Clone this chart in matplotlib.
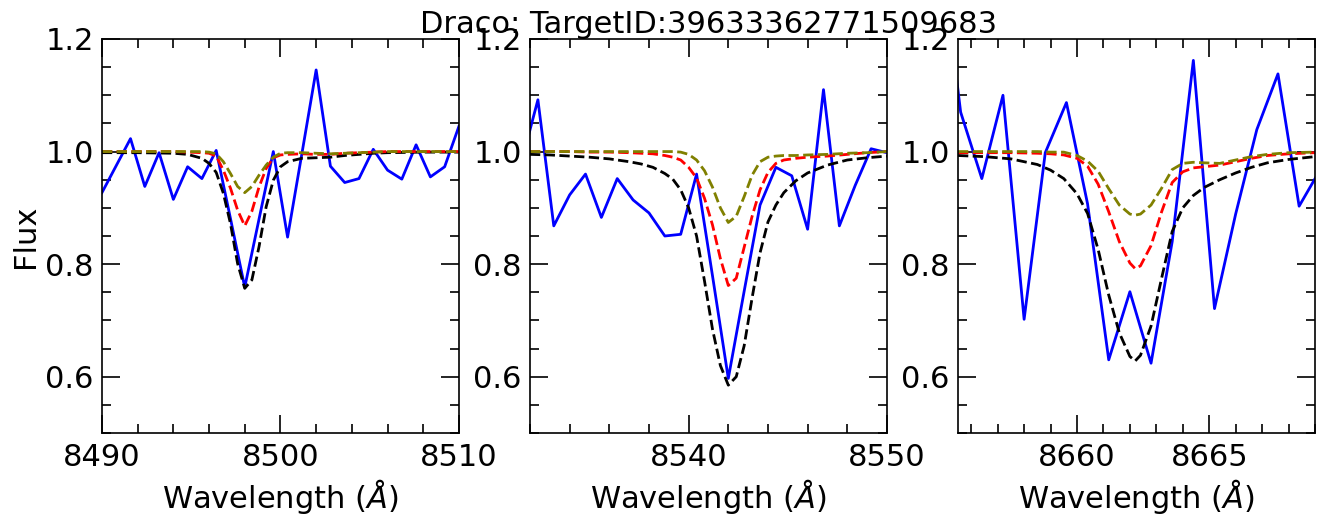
import matplotlib
matplotlib.use('Agg')
import matplotlib.pyplot as plt
from matplotlib.ticker import MultipleLocator

plt.rcParams['font.size'] = 22

f_out = 'out.png'
title = 'Draco: TargetID:39633362771509683'

# observed spectrum, one chunk per CaT line
wave1 = [8490.0, 8490.8, 8491.6, 8492.4, 8493.2, 8494.0, 8494.8, 8495.6, 8496.4,
         8497.2, 8498.0, 8498.8, 8499.6, 8500.4, 8501.2, 8502.0, 8502.8, 8503.6,
         8504.4, 8505.2, 8506.0, 8506.8, 8507.6, 8508.4, 8509.2, 8510.0]
flux1 = [0.927, 0.975, 1.023, 0.938, 0.998, 0.915, 0.973, 0.952, 1.002,
         0.881, 0.759, 0.880, 1.000, 0.848, 0.996, 1.145, 0.974, 0.945,
         0.952, 1.004, 0.967, 0.951, 1.012, 0.955, 0.973, 1.045]

wave2 = [8531.6, 8532.4, 8533.2, 8534.0, 8534.8, 8535.6, 8536.4, 8537.2, 8538.0,
         8538.8, 8539.6, 8540.4, 8541.2, 8542.0, 8542.8, 8543.6, 8544.4, 8545.2,
         8546.0, 8546.8, 8547.6, 8548.4, 8549.2, 8550.0]
flux2 = [0.985, 1.092, 0.868, 0.923, 0.960, 0.883, 0.952, 0.914, 0.891,
         0.850, 0.853, 0.960, 0.780, 0.597, 0.752, 0.905, 0.972, 0.957,
         0.862, 1.110, 0.868, 0.940, 1.005, 0.998]

wave3 = [8654.8, 8655.6, 8656.4, 8657.2, 8658.0, 8658.8, 8659.6, 8660.4, 8661.2,
         8662.0, 8662.8, 8663.6, 8664.4, 8665.2, 8666.0, 8666.8, 8667.6, 8668.4,
         8669.2]
flux3 = [1.380, 1.070, 0.952, 1.100, 0.702, 0.998, 1.087, 0.907, 0.630,
         0.751, 0.624, 0.840, 1.162, 0.721, 0.889, 1.039, 1.138, 0.903,
         0.968]

# model profiles (black, red, olive), sampled off the figure
mwave1 = [8490.0, 8492.0, 8494.0, 8494.8, 8495.6, 8496.0, 8496.4, 8496.8, 8497.2,
          8497.6, 8498.0, 8498.4, 8498.8, 8499.2, 8499.6, 8500.0, 8500.4, 8501.2,
          8502.0, 8502.8, 8503.6, 8504.4, 8505.2, 8506.0, 8508.0, 8510.0]
black1 = [0.998, 0.998, 0.997, 0.995, 0.988, 0.979, 0.963, 0.926, 0.872,
          0.801, 0.757, 0.772, 0.831, 0.902, 0.949, 0.973, 0.982, 0.988,
          0.989, 0.990, 0.993, 0.995, 0.997, 0.998, 0.999, 0.999]
red1 = [1.000, 1.000, 1.000, 0.999, 0.998, 0.997, 0.992, 0.967, 0.935,
        0.896, 0.868, 0.894, 0.937, 0.970, 0.989, 0.994, 0.995, 0.996,
        0.995, 0.995, 0.997, 0.998, 0.999, 1.000, 1.000, 1.000]
olive1 = [1.000, 1.000, 1.000, 1.000, 1.000, 0.999, 0.996, 0.982, 0.961,
          0.938, 0.927, 0.938, 0.958, 0.976, 0.990, 0.997, 0.998, 0.998,
          0.997, 0.996, 0.997, 0.998, 0.999, 1.000, 1.000, 1.000]

mwave2 = [8532.0, 8533.0, 8534.0, 8535.0, 8536.0, 8537.0, 8537.6, 8538.2, 8538.8,
          8539.2, 8539.6, 8540.0, 8540.4, 8540.8, 8541.2, 8541.6, 8542.0, 8542.4,
          8542.8, 8543.2, 8543.6, 8544.0, 8544.4, 8544.8, 8545.4, 8546.0, 8547.0,
          8548.0, 8549.0, 8550.0]
black2 = [0.995, 0.994, 0.992, 0.990, 0.987, 0.982, 0.978, 0.972, 0.961,
          0.951, 0.932, 0.900, 0.850, 0.770, 0.685, 0.620, 0.585, 0.600,
          0.655, 0.740, 0.820, 0.875, 0.905, 0.927, 0.948, 0.962, 0.976,
          0.985, 0.989, 0.992]
red2 = [1.000, 1.000, 1.000, 0.999, 0.999, 0.998, 0.997, 0.996, 0.993,
        0.990, 0.985, 0.972, 0.953, 0.917, 0.870, 0.810, 0.762, 0.775,
        0.830, 0.885, 0.932, 0.963, 0.979, 0.985, 0.988, 0.990, 0.992,
        0.995, 0.998, 1.000]
olive2 = [1.000, 1.000, 1.000, 1.000, 1.000, 1.000, 1.000, 1.000, 1.000,
          1.000, 0.999, 0.995, 0.985, 0.966, 0.937, 0.900, 0.874, 0.885,
          0.920, 0.958, 0.982, 0.990, 0.992, 0.993, 0.993, 0.994, 0.995,
          0.997, 0.998, 1.000]

mwave3 = [8655.5, 8656.5, 8657.5, 8658.5, 8659.0, 8659.5, 8660.0, 8660.4, 8660.8,
          8661.2, 8661.6, 8662.0, 8662.2, 8662.4, 8662.8, 8663.2, 8663.6, 8664.0,
          8664.4, 8664.8, 8665.4, 8666.0, 8666.6, 8667.2, 8668.0, 8669.0]
black3 = [0.993, 0.991, 0.987, 0.977, 0.967, 0.952, 0.925, 0.890, 0.826,
          0.745, 0.678, 0.636, 0.628, 0.638, 0.690, 0.775, 0.858, 0.900,
          0.922, 0.936, 0.950, 0.962, 0.972, 0.980, 0.986, 0.991]
red3 = [0.998, 0.998, 0.998, 0.997, 0.996, 0.994, 0.988, 0.974, 0.942,
        0.893, 0.840, 0.802, 0.792, 0.797, 0.833, 0.893, 0.945, 0.964,
        0.971, 0.973, 0.976, 0.982, 0.988, 0.993, 0.996, 0.998]
olive3 = [1.000, 1.000, 1.000, 1.000, 0.999, 0.999, 0.993, 0.983, 0.965,
          0.934, 0.905, 0.889, 0.887, 0.889, 0.905, 0.935, 0.968, 0.979,
          0.981, 0.980, 0.979, 0.985, 0.991, 0.995, 0.998, 0.999]

xlims = [(8490, 8510), (8532, 8550), (8655.5, 8669.0)]
xmajor = [10, 10, 5]
xminor = [2, 2, 1]

panels = [(wave1, flux1, mwave1, black1, red1, olive1),
          (wave2, flux2, mwave2, black2, red2, olive2),
          (wave3, flux3, mwave3, black3, red3, olive3)]

fig = plt.figure(figsize=(13.38, 5.15), dpi=100)
lefts = [0.0762, 0.3961, 0.7160]
axes = [fig.add_axes([l, 0.1592, 0.2668, 0.7651]) for l in lefts]

for i, ax in enumerate(axes):
    w, f, mw, kb, kr, ko = panels[i]
    ax.plot(w, f, color='b', lw=2)
    ax.plot(mw, kb, color='k', ls='--', lw=2)
    ax.plot(mw, kr, color='r', ls='--', lw=2)
    ax.plot(mw, ko, color='olive', ls='--', lw=2)

    ax.set_xlim(*xlims[i])
    ax.set_ylim(0.5, 1.2)
    ax.xaxis.set_major_locator(MultipleLocator(xmajor[i]))
    ax.xaxis.set_minor_locator(MultipleLocator(xminor[i]))
    ax.yaxis.set_major_locator(MultipleLocator(0.2))
    ax.yaxis.set_minor_locator(MultipleLocator(0.05))
    ax.tick_params(which='both', direction='in', top=True, right=True,
                   width=1.2, labelsize=22)
    ax.tick_params(which='major', length=13)
    ax.tick_params(which='minor', length=6.5)
    ax.tick_params(axis='x', pad=7)
    ax.tick_params(axis='y', pad=6)
    for s in ax.spines.values():
        s.set_linewidth(1.2)
    ax.set_xlabel(r'Wavelength ($\AA$)', fontsize=22)

axes[0].set_ylabel('Flux', fontsize=22)
axes[1].set_title(title, fontsize=22, pad=4)

plt.savefig(f_out, dpi=100)
